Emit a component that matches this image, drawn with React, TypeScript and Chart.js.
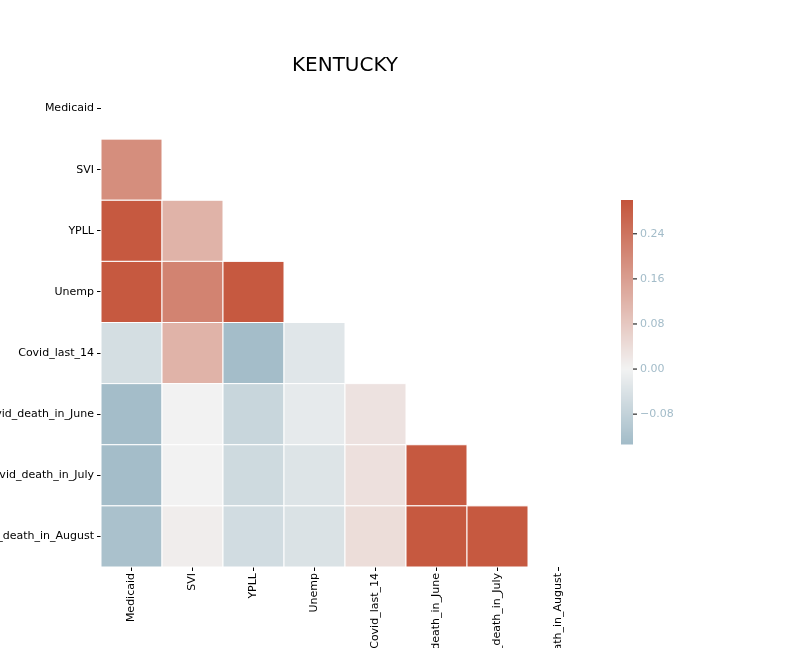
import React, { useEffect, useRef } from "react";
import { Chart, registerables } from "chart.js";
Chart.register(...registerables);

const labels = ["Medicaid", "SVI", "YPLL", "Unemp", "Covid_last_14", "Covid_death_in_June", "Covid_death_in_July", "Covid_death_in_August"];
// lower-triangle correlations: row i has values for columns 0..i-1
const rowSVI = [0.19];
const rowYPLL = [0.29, 0.12];
const rowUnemp = [0.29, 0.21, 0.29];
const rowCovid14 = [-0.05, 0.12, -0.13, -0.03];
const rowJune = [-0.13, 0.0, -0.07, -0.02, 0.03];
const rowJuly = [-0.13, 0.0, -0.06, -0.035, 0.035, 0.29];
const rowAugust = [-0.12, 0.01, -0.055, -0.04, 0.04, 0.29, 0.29];
const rows = [[], rowSVI, rowYPLL, rowUnemp, rowCovid14, rowJune, rowJuly, rowAugust];
const vmin = -0.133, vmax = 0.30, vabs = 0.30;
const cbTicks = [0.24, 0.16, 0.08, 0.0, -0.08];

function color(v: number) {
  const w = [242, 242, 242];
  const red = [196, 84, 58];
  const blue = [62, 120, 148];
  const t = Math.max(-1, Math.min(1, v / vabs));
  const e = t >= 0 ? red : blue;
  const a = Math.abs(t);
  const c = w.map((x, k) => Math.round(x + (e[k] - x) * a));
  return `rgb(${c[0]},${c[1]},${c[2]})`;
}

const font = "DejaVu Sans";

const heatPlugin = {
  id: "heat",
  beforeDatasetsDraw(chart: any) {
    const { ctx, scales } = chart;
    const xs = scales.x, ys = scales.y;
    const cw = xs.width / labels.length, ch = ys.height / labels.length;
    rows.forEach((r, i) => {
      r.forEach((v, j) => {
        const cx = xs.getPixelForValue(j), cy = ys.getPixelForValue(i);
        ctx.fillStyle = color(v);
        ctx.fillRect(cx - cw / 2, cy - ch / 2, cw, ch);
        ctx.strokeStyle = "#ffffff";
        ctx.lineWidth = 1;
        ctx.strokeRect(cx - cw / 2, cy - ch / 2, cw, ch);
      });
    });
  },
  afterDraw(chart: any) {
    const { ctx } = chart;
    ctx.save();
    ctx.fillStyle = "#000";
    ctx.font = `20px ${font}`;
    ctx.textAlign = "center";
    ctx.textBaseline = "middle";
    ctx.fillText("KENTUCKY", (chart.chartArea.left + chart.chartArea.right) / 2, 66);
    // colorbar
    const x0 = 621, x1 = 633, top = 200, bot = 444;
    for (let y = top; y < bot; y++) {
      const v = vmax - ((y - top + 0.5) / (bot - top)) * (vmax - vmin);
      ctx.fillStyle = color(v);
      ctx.fillRect(x0, y, x1 - x0, 1.5);
    }
    ctx.font = `11px ${font}`;
    ctx.textAlign = "left";
    ctx.strokeStyle = "#000";
    ctx.lineWidth = 1;
    cbTicks.forEach((t) => {
      const y = top + ((vmax - t) / (vmax - vmin)) * (bot - top);
      ctx.beginPath();
      ctx.moveTo(x1, y);
      ctx.lineTo(x1 + 4, y);
      ctx.stroke();
      ctx.fillText(t === 0 ? "0.00" : (t < 0 ? "\u22120.08" : t.toFixed(2)), x1 + 7, y);
    });
    ctx.restore();
  },
};

export default function App() {
  const ref = useRef<HTMLCanvasElement>(null);
  useEffect(() => {
    const chart = new Chart(ref.current!, {
      type: "bar",
      data: { labels, datasets: [{ data: [] }] },
      plugins: [heatPlugin],
      options: {
        animation: false,
        responsive: false,
        layout: { padding: { top: 78, right: 203, left: 0, bottom: 0 } },
        plugins: { legend: { display: false }, tooltip: { enabled: false } },
        scales: {
          x: {
            type: "category",
            labels,
            offset: true,
            grid: { display: true, drawOnChartArea: false, tickLength: 4, color: "#000", offset: false },
            border: { display: false },
            ticks: { color: "#000", font: { family: font, size: 11 }, maxRotation: 90, minRotation: 90, padding: 2 },
            afterFit: (s: any) => { s.height = 81; },
          },
          y: {
            type: "category",
            labels,
            offset: true,
            grid: { display: true, drawOnChartArea: false, tickLength: 4, color: "#000", offset: false },
            border: { display: false },
            ticks: { color: "#000", font: { family: font, size: 11 }, padding: 3 },
            afterFit: (s: any) => { s.width = 101; },
          },
        },
      } as any,
    });
    return () => chart.destroy();
  }, []);
  return (
    <div style={{ position: "absolute", left: 0, top: 0, width: 792, height: 648, background: "#fff" }}>
      <canvas ref={ref} width={792} height={648} style={{ width: 792, height: 648 }} />
    </div>
  );
}
